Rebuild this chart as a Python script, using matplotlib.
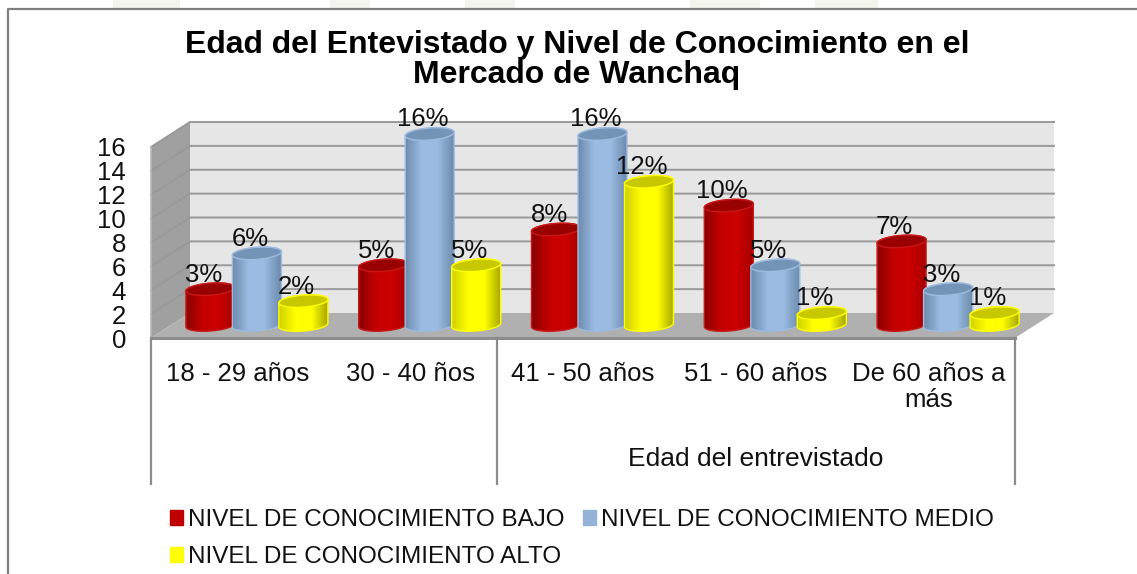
import numpy as np
import matplotlib
matplotlib.use("Agg")
import matplotlib.pyplot as plt
from matplotlib.colors import LinearSegmentedColormap
from matplotlib.lines import Line2D
from matplotlib.patches import PathPatch, Polygon, Rectangle
from matplotlib.path import Path

plt.rcParams['font.family'] = ['Liberation Sans', 'DejaVu Sans']

categorias = ["18 - 29 años", "30 - 40 ños", "41 - 50 años", "51 - 60 años", "De 60 años a\nmás"]
series = ["NIVEL DE CONOCIMIENTO BAJO", "NIVEL DE CONOCIMIENTO MEDIO", "NIVEL DE CONOCIMIENTO ALTO"]
bajo = [3, 5, 8, 10, 7]
medio = [6, 16, 16, 5, 3]
alto = [2, 5, 12, 1, 1]
y_ticks = [0, 2, 4, 6, 8, 10, 12, 14, 16]

W, H = 1137, 574
fig = plt.figure(figsize=(W / 100, H / 100), dpi=100)


def fx(px):
    return px / W


def fy(py):
    return 1 - py / H


# fondo: restos de la marca de agua y marco
for x0, x1 in [(113, 180), (330, 370), (465, 515), (690, 760), (815, 878)]:
    fig.add_artist(Rectangle((fx(x0), fy(8)), fx(x1 - x0), 8 / H, transform=fig.transFigure,
                             color="#f4f4ef", lw=0))
fig.add_artist(Line2D([fx(8), fx(8), 1], [0, fy(9), fy(9)], transform=fig.transFigure,
                      color="#808080", lw=1.6))

ax = fig.add_axes([fx(151), fy(338), fx(864), 191 / H])
ax.set_xlim(-0.5, 4.5)
ax.set_ylim(0, 16)
for s in ax.spines.values():
    s.set_visible(False)
ax.patch.set_visible(False)

dx = 39 / 172.8   # profundidad 3D en unidades de datos
dy = 25 / 11.94
L, R = -0.5, 4.5
T = y_ticks[-1]

# paredes y piso
ax.add_patch(Polygon([(L + dx, dy), (R + dx, dy), (R + dx, T + dy), (L + dx, T + dy)],
                     color="#e6e6e6", lw=0, zorder=1, clip_on=False))
ax.add_patch(Polygon([(L, 0), (L + dx, dy), (L + dx, T + dy), (L, T)],
                     color="#a0a0a0", lw=0, zorder=1, clip_on=False))
ax.add_patch(Polygon([(L, 0), (R, 0), (R + dx, dy), (L + dx, dy)],
                     color="#b0b0b0", lw=0, zorder=1, clip_on=False))
for v in y_ticks[1:]:
    ax.plot([L, L + dx, R + dx], [v, v + dy, v + dy], color="#999999", lw=1.4, zorder=2,
            clip_on=False, solid_joinstyle="miter")
ax.plot([L, R], [0, 0], color="#8c8c8c", lw=2.2, zorder=3, clip_on=False)
ax.plot([L, L], [0, T], color="#b8b8b8", lw=1.2, zorder=3, clip_on=False)

# separadores debajo del eje
for x in [-0.5, 1.5, 4.5]:
    ax.plot([x, x], [0, -146 / 11.94], color="#8c8c8c", lw=1.6, zorder=3, clip_on=False)

ax.set_xticks(range(len(categorias)))
ax.set_xticklabels(categorias, fontsize=18.5, linespacing=1.1, color="#111111")
ax.tick_params(axis="x", length=0, pad=17)
ax.set_yticks(y_ticks)
ax.set_yticklabels([str(v) for v in y_ticks], fontsize=18.5, color="#111111")
ax.tick_params(axis="y", length=0, pad=18)
ax.text(3, -121 / 11.94, "Edad del entrevistado", ha="center", va="center", fontsize=19,
        color="#111111", clip_on=False)

colores = [
    (["#8a0000", "#c40000", "#cc0000", "#a80000"], "#990000", "#c81818", "#c00000"),
    (["#6d8bad", "#9bbbe3", "#9bbbe3", "#6d8bad"], "#7393b7", "#9dbce0", "#95b3d7"),
    (["#d2d200", "#ffff00", "#ffff00", "#a8a800"], "#c8c800", "#ffff00", "#ffff00"),
]

ancho = 24.5 / 172.8
ry = 6 / 11.94
incl = 1.8 / 11.94
paso = 46.5 / 172.8
base = dy * 0.52
t = np.linspace(0, 2 * np.pi, 80)


def ellipse(cx, cy, tt):
    return np.column_stack([cx + ancho * np.cos(tt), cy + ry * np.sin(tt) + incl * np.cos(tt)])


z = 5
for i in range(len(categorias)):
    for j, vals in enumerate([bajo, medio, alto]):
        grad, tapa, borde, _ = colores[j]
        cmap = LinearSegmentedColormap.from_list("c", grad)
        cx = i + dx / 2 + (j - 1) * paso
        top = base + vals[i]
        low = ellipse(cx, base, np.linspace(np.pi, 2 * np.pi, 40))
        up = ellipse(cx, top, np.linspace(0, np.pi, 40))
        cuerpo = Path(np.vstack([low, up, low[:1]]), closed=True)
        p = PathPatch(cuerpo, fc="none", ec=borde, lw=1.0, zorder=z + 0.2, clip_on=False)
        ax.add_patch(p)
        im = ax.imshow(np.linspace(0, 1, 64).reshape(1, -1), cmap=cmap, aspect="auto",
                       extent=[cx - ancho, cx + ancho, base - ry * 2, top + ry * 2], zorder=z)
        im.set_clip_box(fig.bbox)
        im.set_clip_path(PathPatch(cuerpo, transform=ax.transData))
        ax.fill(*ellipse(cx, top, t).T, fc=tapa, ec=borde, lw=1.0, zorder=z + 0.3, clip_on=False)
        ax.annotate(f"{vals[i]}%", (cx, top), xytext=(-5, 10.5), textcoords="offset points",
                    ha="center", va="center", fontsize=18.5, color="#111111", zorder=50,
                    annotation_clip=False)
        z += 1
ax.set_xlim(-0.5, 4.5)
ax.set_ylim(0, 16)

fig.text(fx(577), fy(60), "Edad del Entevistado y Nivel de Conocimiento en el\nMercado de Wanchaq",
         ha="center", va="center", fontsize=23, fontweight="bold", linespacing=1.0, color="#000000")

h = [Rectangle((0, 0), 1, 1, color=colores[k][3]) for k in (0, 2, 1)]
fig.legend(h, [series[0], series[2], series[1]], ncol=2, loc="upper left", frameon=False,
           bbox_to_anchor=(fx(165), fy(504)), fontsize=17.5, handlelength=0.54, handleheight=0.54,
           handletextpad=0.2, columnspacing=0.78, labelspacing=0.62, borderpad=0.2, borderaxespad=0,
           labelcolor="#111111")

fig.savefig("out.png", dpi=100)
